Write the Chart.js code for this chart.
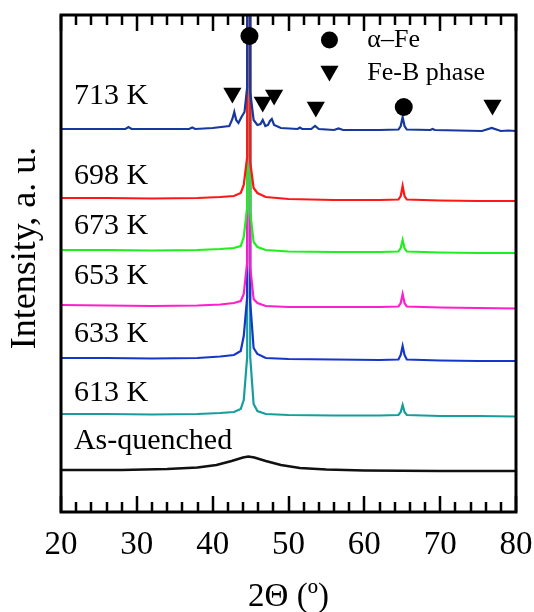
<!DOCTYPE html>
<html>
<head>
<meta charset="utf-8">
<script src="https://cdn.jsdelivr.net/npm/chart.js@4.4.1/dist/chart.umd.min.js"></script>
<style>
  html, body { margin: 0; padding: 0; background: #fff; }
  canvas { display: block; }
</style>
</head>
<body>
<canvas id="xrd-chart" width="534" height="612"></canvas>
<script>
// sample names, top to bottom
var samples = ['713 K', '698 K', '673 K', '653 K', '633 K', '613 K', 'As-quenched'];
var colors = ['#17389c', '#ff1717', '#1ef01e', '#ff1ecb', '#1537c9', '#189d9d', '#111111'];

// 2theta grid
var twoTheta = [20, 26, 32, 38, 41, 42.8, 43.7, 44.1, 44.55, 44.75, 44.95, 45.4, 45.9, 47, 50, 56, 62, 64.5, 64.8, 65.05, 65.3, 65.6, 70, 75, 80];

var int698 = [314, 314, 313.5, 314, 315, 316, 319, 327, 355, 5000, 350, 324, 319, 315, 313, 312, 312, 312.5, 316, 326, 316, 312.5, 311.5, 311, 311];
var int673 = [262, 262, 261.5, 262, 263, 264, 266, 275, 305, 5000, 300, 270, 265, 262, 260.5, 260, 260, 260.5, 264, 272, 264, 260.5, 259.5, 259, 259];
var int653 = [207, 206.5, 206, 206.5, 207.5, 209, 211, 218, 250, 5000, 245, 213, 209, 206, 205, 205, 205, 205.5, 209, 218, 209, 205.5, 204.5, 204, 203.5];
var int633 = [154, 154, 153.5, 154, 155.5, 157, 161, 176, 215, 5000, 210, 164, 158, 154, 153, 152.5, 152, 152.5, 157, 166, 157, 152.5, 151.5, 151, 151];
var int613 = [98, 98, 97.5, 98, 99, 100, 103, 112, 155, 5000, 155, 108, 101, 98, 97, 96.5, 96.5, 97, 100, 107, 100, 97, 96, 96, 95.5];

// 713 K shows the extra Fe-B reflections
var twoTheta713 = [20, 25, 28.5, 28.9, 29.3, 33, 36.9, 37.3, 37.7, 40, 42.2, 42.6, 42.85, 43.1, 43.4, 43.8, 44.2, 44.55, 44.75, 44.95, 45.4, 45.9, 46.3, 46.6, 46.95, 47.3, 47.55, 47.8, 48.1, 49, 51.2, 51.5, 51.8, 53, 53.5, 54, 56, 56.6, 57.2, 62, 64.5, 64.8, 65.05, 65.3, 65.6, 68.7, 69, 69.3, 75.5, 76.8, 78, 79, 80];
var int713 = [383, 383, 383, 385, 383, 383, 383, 384.5, 383, 384, 386, 393, 400, 392, 389, 395, 400, 425, 5000, 420, 392, 387, 388, 392, 386, 387, 391, 393, 387, 384, 383, 384.5, 383, 383, 386, 383, 382, 383.5, 382, 382, 382.5, 386, 395, 386, 382.5, 382, 383, 382, 381, 384, 381, 381.5, 381];

// amorphous halo
var twoThetaAQ = [20, 28, 34, 38, 40.5, 42.5, 44, 44.7, 45.5, 47, 49, 51.5, 55, 60, 70, 80];
var intAQ = [42, 42, 43, 44.5, 47, 51, 54.5, 55.5, 54.5, 51, 47, 44, 42.5, 41.5, 41, 41];

// phase markers
var alphaFeX = [44.85, 65.2];
var alphaFeY = [476, 405];
var feBX = [42.6, 46.6, 48.1, 53.6, 76.9];
var feBY = [419, 410, 417, 405, 407];

var xTicks = [20, 30, 40, 50, 60, 70, 80];

// where the sample names sit (data units)
var labelX = 21.7;
var labelY = [416, 336, 285.5, 236, 178, 119, 71];

function toPoints(xs, ys) {
  return xs.map(function (x, i) { return { x: x, y: ys[i] }; });
}

var serif = '"Liberation Serif", "Times New Roman", serif';

var seriesX = [twoTheta713, twoTheta, twoTheta, twoTheta, twoTheta, twoTheta, twoThetaAQ];
var seriesY = [int713, int698, int673, int653, int633, int613, intAQ];

var datasets = [
  {
    label: 'alpha-Fe', data: toPoints(alphaFeX, alphaFeY), showLine: false,
    pointStyle: 'circle', pointRadius: 9, backgroundColor: '#000', borderColor: '#000', borderWidth: 0
  },
  {
    label: 'Fe-B', data: toPoints(feBX, feBY), showLine: false,
    pointStyle: 'triangle', pointRotation: 180, pointRadius: 10.5, backgroundColor: '#000', borderColor: '#000', borderWidth: 0
  }
];
samples.forEach(function (s, i) {
  datasets.push({
    label: s,
    data: toPoints(seriesX[i], seriesY[i]),
    borderColor: colors[i],
    borderWidth: i === 6 ? 2.6 : 2.2,
    pointRadius: 0,
    tension: 0,
    fill: false
  });
});

var framePlugin = {
  id: 'frame',
  afterDraw: function (chart) {
    var ctx = chart.ctx, a = chart.chartArea, xs = chart.scales.x;
    ctx.save();
    ctx.strokeStyle = '#000';
    ctx.lineWidth = 2.5;
    for (var v = 20; v <= 80; v += 2) {
      var px = Math.round(xs.getPixelForValue(v));
      var len = v % 10 === 0 ? 16 : 10;
      ctx.beginPath();
      ctx.moveTo(px, a.bottom); ctx.lineTo(px, a.bottom - len);
      ctx.moveTo(px, a.top); ctx.lineTo(px, a.top + len);
      ctx.stroke();
    }
    ctx.lineWidth = 3;
    ctx.strokeRect(a.left, a.top, a.right - a.left, a.bottom - a.top);
    ctx.restore();
  }
};

var textPlugin = {
  id: 'texts',
  afterDraw: function (chart) {
    var ctx = chart.ctx, xs = chart.scales.x, ys = chart.scales.y;
    ctx.save();
    ctx.fillStyle = '#000';
    ctx.textBaseline = 'middle';
    ctx.textAlign = 'left';
    ctx.font = '30px ' + serif;
    samples.forEach(function (s, i) {
      ctx.fillText(s, xs.getPixelForValue(labelX), ys.getPixelForValue(labelY[i]));
    });

    // legend
    var lx = xs.getPixelForValue(55.4);
    var y1 = ys.getPixelForValue(472), y2 = ys.getPixelForValue(441);
    ctx.beginPath();
    ctx.arc(lx, y1, 8.5, 0, Math.PI * 2);
    ctx.fill();
    var r = 10.5;
    ctx.beginPath();
    ctx.moveTo(lx - r * 0.866, y2 - r / 2);
    ctx.lineTo(lx + r * 0.866, y2 - r / 2);
    ctx.lineTo(lx, y2 + r);
    ctx.closePath();
    ctx.fill();
    ctx.font = '26px ' + serif;
    var tx = xs.getPixelForValue(60.4);
    ctx.fillText('\u03B1\u2013Fe', tx, y1);
    ctx.fillText('Fe-B phase', tx, y2 + 2);

    // y title
    ctx.translate(26, 248);
    ctx.rotate(-Math.PI / 2);
    ctx.textAlign = 'center';
    ctx.font = '36px ' + serif;
    ctx.fillText('Intensity, a. u.', 0, 0);
    ctx.restore();
  }
};

var ctx = document.getElementById('xrd-chart').getContext('2d');
var myChart = new Chart(ctx, {
  type: 'line',
  data: { datasets: datasets },
  options: {
    responsive: false,
    animation: false,
    layout: { padding: { left: 61, right: 18, top: 15, bottom: 0 } },
    plugins: { legend: { display: false }, tooltip: { enabled: false } },
    scales: {
      x: {
        type: 'linear',
        min: 20,
        max: 80,
        afterBuildTicks: function (scale) {
          scale.ticks = xTicks.map(function (v) { return { value: v }; });
        },
        afterFit: function (scale) {
          scale.height = 100;
          scale.paddingLeft = 0;
          scale.paddingRight = 0;
        },
        grid: { display: false, drawTicks: false },
        border: { display: false },
        ticks: { color: '#000', font: { family: serif, size: 33 }, padding: 14, maxRotation: 0 },
        title: {
          display: true,
          text: '2\u0398 (\u00BA)',
          color: '#000',
          font: { family: serif, size: 33, lineHeight: 1 },
          padding: { top: 0, bottom: -2 }
        }
      },
      y: {
        type: 'linear',
        min: 0,
        max: 497,
        display: false
      }
    }
  },
  plugins: [framePlugin, textPlugin]
});
</script>
</body>
</html>
